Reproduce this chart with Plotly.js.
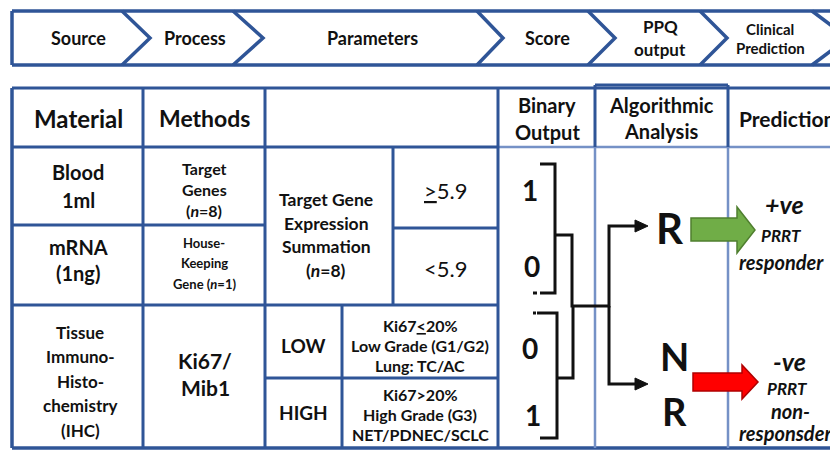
<!DOCTYPE html>
<html>
<head>
<meta charset="utf-8">
<script src="https://cdn.plot.ly/plotly-3.0.1.min.js"></script>
<style>html,body{margin:0;padding:0;background:#fff;}#chart{width:830px;height:450px;}</style>
</head>
<body>
<div id="chart"></div>
<script>
// ---------- content (text) ----------
const stepLabels = [["Source"], ["Process"], ["Parameters"], ["Score"], ["PPQ", "output"], ["Clinical", "Prediction"]];
const headerLabels = [["Material"], ["Methods"], ["Binary", "Output"], ["Algorithmic", "Analysis"], ["Prediction"]];
const materialLabels = [["Blood", "1ml"], ["mRNA", "(1ng)"], ["Tissue", "Immuno-", "Histo-", "chemistry", "(IHC)"]];
const methodLabels = [["Target", "Genes", "(<i>n</i>=8)"], ["House-", "Keeping", "Gene (<i>n</i>=1)"], ["Ki67/", "Mib1"]];
const summationLabel = ["Target Gene", "Expression", "Summation", "(<i>n</i>=8)"];
const thresholdLabels = ["<u>></u>5.9", "<5.9"];
const gradeLabels = ["LOW", "HIGH"];
const gradeDetails = [["Ki67<u><</u>20%", "Low Grade (G1/G2)", "Lung: TC/AC"], ["Ki67>20%", "High Grade (G3)", "NET/PDNEC/SCLC"]];
const binaryDigits = ["1", "0", "0", "1"];
const outcomeLetters = [["R"], ["N", "R"]];
const predictionLabels = [["+ve", "PRRT", "responder"], ["-ve", "PRRT", "non-", "responsder"]];

// ---------- geometry / style ----------
const FONT = "Lato, 'Open Sans', sans-serif";
const DARK = "#2f5597";
const LIGHT = "#7591c6";
const INK = "#111111";
const annotations = [];
const shapes = [];

function txt(lines, cx, cy, size, gap, opt) {
  opt = opt || {};
  const n = lines.length;
  lines.forEach((t, i) => {
    let s = t;
    if (opt.bold !== false) s = "<b>" + s + "</b>";
    if (opt.italic) s = "<i>" + s + "</i>";
    annotations.push({
      x: cx, y: cy + (i - (n - 1) / 2) * gap, xref: "x", yref: "y",
      text: s, showarrow: false, xanchor: opt.anchor || "center", yanchor: "middle",
      font: {family: FONT, size: size, color: INK}
    });
  });
}
function line(x0, y0, x1, y1, color, w) {
  shapes.push({type: "line", xref: "x", yref: "y", x0: x0, y0: y0, x1: x1, y1: y1,
    line: {color: color, width: w}});
}
function path(d, color, w, fill) {
  shapes.push({type: "path", xref: "x", yref: "y", path: d,
    line: {color: color, width: w}, fillcolor: fill || "rgba(0,0,0,0)"});
}

// chevron band
const bandTop = 11, bandBot = 65, bandMid = 38, bandLeft = 12;
const chevTop = [122, 233, 477, 588, 700, 812];
const chevTip = [150, 263, 503, 615, 727, 848];
line(bandLeft, bandTop, 850, bandTop, DARK, 3.5);
line(bandLeft, bandBot, 850, bandBot, DARK, 3.5);
line(bandLeft, bandTop, bandLeft, bandBot, DARK, 3.5);
chevTop.forEach((xt, i) => {
  path(`M ${xt},${bandTop} L ${chevTip[i]},${bandMid} L ${xt},${bandBot}`, DARK, 3.5);
});
const stepX = [78, 195, 372, 547, 660, 770];
const stepSize = [18, 18, 18, 18, 17, 15];
const stepGap = [0, 0, 0, 0, 23, 19];
stepLabels.forEach((l, i) => txt(l, stepX[i], bandMid, stepSize[i], stepGap[i]));

// table grid
const T = 88, H = 147, B = 448, L = 12, R = 850;
line(L, T, R, T, DARK, 3);
line(595, 85, 728, 85, DARK, 3);
line(L, B, R, B, DARK, 3.5);
line(L, T, L, B, DARK, 3.5);
line(L, H, 498, H, DARK, 3);
line(498, H, R, H, LIGHT, 2.5);
line(143, T, 143, B, DARK, 3);
line(265, T, 265, B, DARK, 3);
line(393, H, 393, 305, DARK, 3);
line(498, T, 498, B, DARK, 3);
line(595, 85, 595, H, DARK, 3);
line(595, H, 595, B, LIGHT, 2.5);
line(728, 85, 728, H, DARK, 3);
line(728, H, 728, B, LIGHT, 2.5);
line(L, 225, 265, 225, DARK, 3);
line(393, 228, 498, 228, DARK, 3);
line(L, 305, 498, 305, DARK, 3);
line(265, 378, 498, 378, DARK, 3);
line(342, 305, 342, B, DARK, 3);

// header
txt(headerLabels[0], 78, 118, 24, 0);
txt(headerLabels[1], 204, 118, 23, 0);
txt(headerLabels[2], 547, 118, 20, 27);
txt(headerLabels[3], 661, 118, 20, 26);
txt(headerLabels[4], 737, 118, 21, 0, {anchor: "left"});

// body text
txt(materialLabels[0], 78, 186, 20, 28);
txt(materialLabels[1], 78, 260, 20, 26);
txt(materialLabels[2], 80, 381, 17, 24.5);
txt(methodLabels[0], 204, 189, 16, 21);
txt(methodLabels[1], 204, 263, 13, 20.5);
txt(methodLabels[2], 205, 374, 21, 27);
txt(summationLabel, 326, 235, 17.5, 23.5);
txt([thresholdLabels[0]], 445, 190, 22, 0, {bold: false});
txt([thresholdLabels[1]], 445, 268, 22, 0, {bold: false});
txt([gradeLabels[0]], 303, 345, 19, 0);
txt([gradeLabels[1]], 303, 412, 19, 0);
txt(gradeDetails[0], 420, 345, 16, 20);
txt(gradeDetails[1], 420, 414, 16, 20);

// binary digits
const digitX = [530, 532, 530, 533];
const digitY = [190, 266, 348, 415];
binaryDigits.forEach((d, i) => txt([d], digitX[i], digitY[i], 28, 0));

// connectors (black)
const K = "#111111";
path("M 540,164 L 555,164 L 555,293 L 540,293", K, 3);
path("M 533,293 L 537,293", K, 3);
path("M 555,235 L 572,235 L 572,306 L 609,306 L 609,226 L 636,226", K, 3);
path("M 537,313 L 557,313 L 557,438 L 540,438", K, 3);
path("M 533,313 L 536,313", K, 3);
path("M 557,378 L 573,378 L 573,306", K, 3);
path("M 609,306 L 609,384 L 636,384", K, 3);
path("M 635,220 L 648,226 L 635,232 Z", K, 1, K);
path("M 635,378 L 648,384 L 635,390 Z", K, 1, K);

// outcome letters
txt(outcomeLetters[0], 670, 228, 42, 0);
txt(outcomeLetters[1], 674, 383, 38, 55);

// block arrows
path("M 691,218 L 737,218 L 737,207 L 755,230 L 737,253 L 737,241 L 691,241 Z", "#4f7f2f", 1.5, "#70ad47");
path("M 693,373 L 742,373 L 742,365 L 758,382 L 742,399 L 742,391 L 693,391 Z", "#b00000", 1.5, "#ff0000");

// predictions
txt([predictionLabels[0][0]], 784, 204, 25, 0, {italic: true});
txt([predictionLabels[0][1]], 781, 235, 17, 0, {italic: true});
txt([predictionLabels[0][2]], 737, 262, 20, 0, {italic: true, anchor: "left"});
txt([predictionLabels[1][0]], 789, 361, 25, 0, {italic: true});
txt([predictionLabels[1][1]], 787, 388, 17, 0, {italic: true});
txt([predictionLabels[1][2]], 790, 411, 20, 0, {italic: true});
txt([predictionLabels[1][3]], 737, 433, 20, 0, {italic: true, anchor: "left"});

const layout = {
  width: 830, height: 450,
  margin: {l: 0, r: 0, t: 0, b: 0},
  paper_bgcolor: "#ffffff", plot_bgcolor: "#ffffff",
  xaxis: {range: [0, 830], visible: false, fixedrange: true},
  yaxis: {range: [450, 0], visible: false, fixedrange: true},
  showlegend: false,
  shapes: shapes,
  annotations: annotations
};
Plotly.newPlot("chart", [{x: [], y: [], type: "scatter", mode: "markers", hoverinfo: "skip"}], layout, {displayModeBar: false, staticPlot: true});
</script>
</body>
</html>
